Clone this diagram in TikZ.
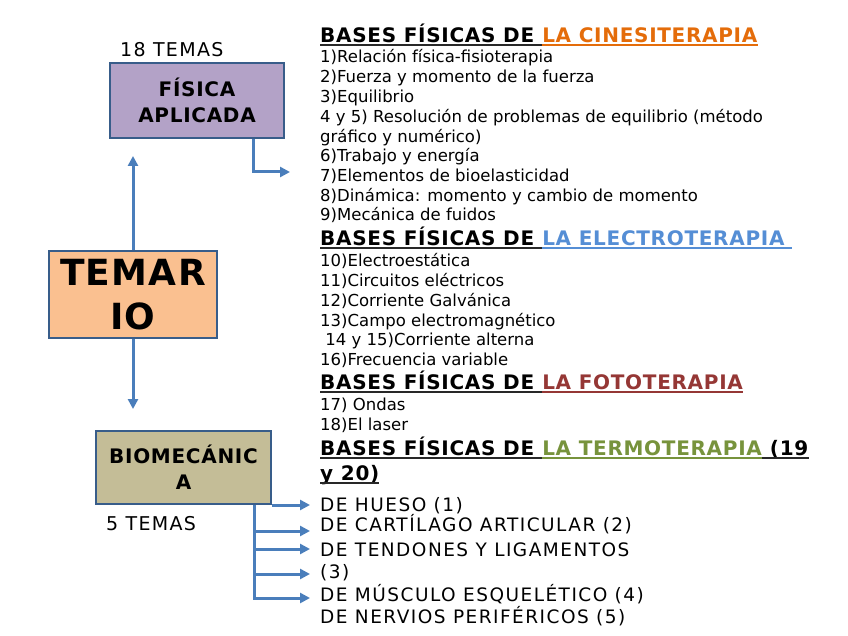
\documentclass[tikz,border=0pt]{standalone}
\usepackage{fontspec}
\setmainfont{DejaVu Sans}
\newfontfamily\widefont{DejaVu Sans}[LetterSpace=7]
\newfontfamily\boldfont{DejaVu Sans}[LetterSpace=3.5]
\newfontfamily\bioitemfont{DejaVu Sans}[LetterSpace=8]
\usepackage{tikz}
\usetikzlibrary{arrows.meta, positioning}
\definecolor{fisicacolor}{RGB}{179,162,199}
\definecolor{temariocolor}{RGB}{250,192,144}
\definecolor{biocolor}{RGB}{196,189,151}
\definecolor{edgecolor}{RGB}{56,93,138}
\definecolor{arrowcolor}{RGB}{74,126,187}
\definecolor{cinecolor}{RGB}{228,108,10}
\definecolor{electrocolor}{RGB}{85,142,213}
\definecolor{fotocolor}{RGB}{149,55,53}
\definecolor{termocolor}{RGB}{119,147,60}
\definecolor{rulecolor}{RGB}{40,40,40}
\tikzset{
  topicbox/.style={draw=edgecolor, line width=2pt, fill=#1, align=center,
                   inner sep=0pt, font=\boldfont\bfseries\fontsize{20}{26}\selectfont},
  topicbox/.default=fisicacolor,
  connector/.style={-{Triangle[length=10pt,width=10pt]}, draw=arrowcolor, line width=3pt},
  heading/.style={anchor=base west, inner sep=0pt,
                  font=\boldfont\bfseries\fontsize{20}{24}\selectfont},
  item/.style={anchor=base west, inner sep=0pt, font=\fontsize{16.5}{19}\selectfont},
  bioitem/.style={anchor=base west, inner sep=0pt, font=\bioitemfont\fontsize{18.5}{21}\selectfont},
  count/.style={anchor=base west, inner sep=0pt, font=\widefont\fontsize{19}{22}\selectfont},
  underbar/.style={line width=2pt, draw=#1},
}

\begin{document}
\begin{tikzpicture}[x=1pt, y=-1pt]
  \useasboundingbox (0,0) rectangle (848,636);

  % Boxes
  \node[topicbox=fisicacolor, minimum width=174pt, minimum height=75pt]
    (fisica) at (197,100.5) {FÍSICA\\APLICADA};
  \node[topicbox=temariocolor, minimum width=168pt, minimum height=87pt,
        font=\boldfont\bfseries\fontsize{36}{44}\selectfont]
    (temario) at (133,294.5) {TEMAR\\IO};
  \node[topicbox=biocolor, minimum width=175pt, minimum height=73pt]
    (bio) at (183.5,467.5) {BIOMECÁNIC\\A};

  \node[count] (fistemas) at (120,56.5) {18 TEMAS};
  \node[count] (biotemas) at (106,530) {5 TEMAS};

  % Cinesiterapia
  \node[heading] (cinehead) at (320,42.7) {BASES FÍSICAS DE\ \mbox{}};
  \node[heading, text=cinecolor] (cinename) at (cinehead.base east) {LA CINESITERAPIA};
  \node[item] (c1) at (320,63) {1)Relación física-fisioterapia};
  \node[item] (c2) at (320,83) {2)Fuerza y momento de la fuerza};
  \node[item] (c3) at (320,103) {3)Equilibrio};
  \node[item] (c4) at (320,122.7) {4 y 5) Resolución de problemas de equilibrio (método};
  \node[item] (c4b) at (320,142.3) {gráfico y numérico)};
  \node[item] (c6) at (320,162) {6)Trabajo y energía};
  \node[item] (c7) at (320,181.7) {7)Elementos de bioelasticidad};
  \node[item] (c8) at (320,201.3) {8)Dinámica: momento y cambio de momento};
  \node[item] (c9) at (320,221) {9)Mecánica de fuidos};

  % Electroterapia
  \node[heading] (electrohead) at (320,245.7) {BASES FÍSICAS DE\ \mbox{}};
  \node[heading, text=electrocolor] (electroname) at (electrohead.base east) {LA ELECTROTERAPIA\ \mbox{}};
  \node[item] (e10) at (320,266.7) {10)Electroestática};
  \node[item] (e11) at (320,286) {11)Circuitos eléctricos};
  \node[item] (e12) at (320,306) {12)Corriente Galvánica};
  \node[item] (e13) at (320,326) {13)Campo electromagnético};
  \node[item] (e14) at (320,345.7) {\ 14 y 15)Corriente alterna};
  \node[item] (e16) at (320,365.7) {16)Frecuencia variable};

  % Fototerapia
  \node[heading] (fotohead) at (320,389) {BASES FÍSICAS DE\ \mbox{}};
  \node[heading, text=fotocolor] (fotoname) at (fotohead.base east) {LA FOTOTERAPIA};
  \node[item] (f17) at (320,410.7) {17) Ondas};
  \node[item] (f18) at (320,430) {18)El laser};

  % Termoterapia
  \node[heading] (termohead) at (320,455) {BASES FÍSICAS DE\ \mbox{}};
  \node[heading, text=termocolor] (termoname) at (termohead.base east) {LA TERMOTERAPIA};
  \node[heading] (termonum) at (termoname.base east) {\ (19};
  \node[heading] (termonumb) at (320,480.5) {y 20)};

  % underlines
  \foreach \n/\c in {cinehead/rulecolor, cinename/cinecolor, electrohead/rulecolor,
                     electroname/electrocolor, fotohead/rulecolor, fotoname/fotocolor,
                     termohead/rulecolor, termoname/termocolor, termonum/rulecolor,
                     termonumb/rulecolor}
    \draw[underbar=\c] ([yshift=-2.6pt]\n.base west) -- ([yshift=-2.6pt]\n.base east);

  % Biomecanica
  \node[bioitem] (hueso) at (320,511) {DE HUESO (1)};
  \node[bioitem] (cartilago) at (320,531.7) {DE CARTÍLAGO ARTICULAR (2)};
  \node[bioitem] (tendones) at (320,556) {DE TENDONES Y LIGAMENTOS};
  \node[bioitem] (tendonesb) at (320,578) {(3)};
  \node[bioitem] (musculo) at (320,601.7) {DE MÚSCULO ESQUELÉTICO (4)};
  \node[bioitem] (nervios) at (320,623) {DE NERVIOS PERIFÉRICOS (5)};

  % Arrows
  \draw[connector, shorten >=17pt] (temario.north) -- (temario.north |- fisica.south);
  \draw[connector, shorten >=21pt] (temario.south) -- (temario.south |- bio.north);

  \coordinate (fisend) at (290,172);
  \draw[connector] ([xshift=56pt]fisica.south) |- (fisend);

  \coordinate (b1) at (310,505);
  \coordinate (b2) at (310,531);
  \coordinate (b3) at (310,549);
  \coordinate (b4) at (310,574);
  \coordinate (b5) at (310,598);
  \draw[connector] (bio.south east) -- (b1);
  \foreach \b in {b2,b3,b4,b5}
    \draw[connector] ([xshift=70.5pt]bio.south) |- (\b);

\end{tikzpicture}
\end{document}
